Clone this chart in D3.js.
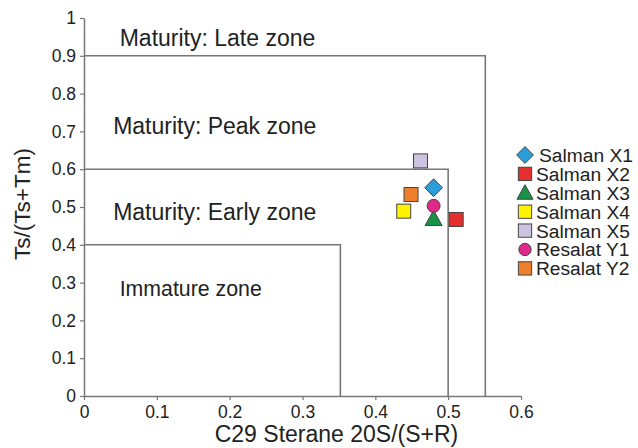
<!DOCTYPE html>
<html>
<head>
<meta charset="utf-8">
<script src="https://cdn.jsdelivr.net/npm/d3@7"></script>
<style>
  body { margin: 0; background: #fff; }
  text { font-family: Arial, "Liberation Sans", sans-serif; fill: #222; }
</style>
</head>
<body>
<div id="chart"></div>
<script>
// sample names, x = C29 sterane 20S/(S+R), y = Ts/(Ts+Tm)
const samples = ['Salman X1', 'Salman X2', 'Salman X3', 'Salman X4', 'Salman X5', 'Resalat Y1', 'Resalat Y2'];
const sterane = [0.48, 0.511, 0.48, 0.439, 0.462, 0.48, 0.449];
const tsRatio = [0.551, 0.467, 0.469, 0.489, 0.622, 0.503, 0.533];
const shapes = ['diamond', 'square', 'triangle', 'square', 'square', 'circle', 'square'];
const colors = ['#2a9ed8', '#e4302e', '#189347', '#fff200', '#cbc3e0', '#e0288a', '#ef7f2c'];

// zone boundaries (corner of each step line)
const zoneX = [0.551, 0.5, 0.352];
const zoneY = [0.9, 0.6, 0.4];
const zoneLabels = ['Maturity: Late zone', 'Maturity: Peak zone', 'Maturity: Early zone', 'Immature zone'];
const zoneLabelX = [0.049, 0.04, 0.04, 0.049];
const zoneLabelY = [0.948, 0.715, 0.487, 0.285];

const xTicks = [0, 0.1, 0.2, 0.3, 0.4, 0.5, 0.6];
const yTicks = [0, 0.1, 0.2, 0.3, 0.4, 0.5, 0.6, 0.7, 0.8, 0.9, 1];

const W = 638, H = 448;
const margin = { top: 18, right: 117, bottom: 52, left: 84 };
const width = W - margin.left - margin.right;
const height = H - margin.top - margin.bottom;

const svg = d3.select('#chart').append('svg')
  .attr('width', W).attr('height', H);

const g = svg.append('g')
  .attr('transform', 'translate(' + margin.left + ',' + margin.top + ')');

const x = d3.scaleLinear().domain([0, 0.6]).range([0, width]);
const y = d3.scaleLinear().domain([0, 1]).range([height, 0]);

// axes
const xAxis = d3.axisBottom(x).tickValues(xTicks).tickFormat(d => d3.format('')(d)).tickSize(4).tickSizeOuter(0);
const yAxis = d3.axisLeft(y).tickValues(yTicks).tickFormat(d => d3.format('')(d)).tickSize(4).tickSizeOuter(0);

const xg = g.append('g').attr('transform', 'translate(0,' + height + ')').call(xAxis);
const yg = g.append('g').call(yAxis);

[xg, yg].forEach(a => {
  a.select('.domain').attr('stroke', '#777').attr('stroke-width', 1.5);
  a.selectAll('.tick line').attr('stroke', '#777').attr('stroke-width', 1.2);
  a.selectAll('.tick text').attr('font-size', 17.5).attr('fill', '#333')
    .attr('font-family', 'Arial, "Liberation Sans", sans-serif');
});
xg.selectAll('.tick text').attr('dy', '0.85em');
yg.selectAll('.tick text').attr('x', -8);

// zone step lines
zoneX.forEach((zx, i) => {
  g.append('path')
    .attr('d', d3.line()([[x(0), y(zoneY[i])], [x(zx), y(zoneY[i])], [x(zx), y(0)]]))
    .attr('fill', 'none')
    .attr('stroke', '#777')
    .attr('stroke-width', 1.6);
});

// zone labels
zoneLabels.forEach((t, i) => {
  g.append('text')
    .attr('x', x(zoneLabelX[i]))
    .attr('y', y(zoneLabelY[i]))
    .attr('dy', '0.35em')
    .attr('font-size', i === 3 ? 21.3 : 23)
    .text(t);
});

// axis titles
g.append('text')
  .attr('x', x(0.3) + 34).attr('y', height + 46)
  .attr('text-anchor', 'middle')
  .attr('font-size', 23)
  .attr('fill', '#333')
  .text('C29 Sterane 20S/(S+R)');

g.append('text')
  .attr('transform', 'translate(' + (-54) + ',' + (y(0.5) - 3) + ') rotate(-90)')
  .attr('text-anchor', 'middle')
  .attr('font-size', 22.5)
  .attr('fill', '#333')
  .text('Ts/(Ts+Tm)');

// marker drawing
function drawMarker(sel, shape, color, big) {
  const s = big ? 1 : 0.95;
  let m;
  if (shape === 'square') {
    m = sel.append('rect').attr('x', -7 * s).attr('y', -7 * s)
      .attr('width', 14 * s).attr('height', 14 * s);
  } else if (shape === 'diamond') {
    m = sel.append('path').attr('d', d3.symbol(d3.symbolDiamond2, 200 * s * s)());
  } else if (shape === 'triangle') {
    const r = 8.5 * s;
    m = sel.append('path').attr('d', 'M0,' + (-r) + 'L' + r + ',' + (r * 0.8) + 'L' + (-r) + ',' + (r * 0.8) + 'Z');
  } else {
    m = sel.append('circle').attr('r', 6.5 * s);
  }
  m.attr('fill', color).attr('stroke', '#444').attr('stroke-width', 1);
}

// points
samples.forEach((name, i) => {
  const p = g.append('g')
    .attr('transform', 'translate(' + x(sterane[i]) + ',' + y(tsRatio[i]) + ')');
  drawMarker(p, shapes[i], colors[i], true);
});

// legend
const legend = svg.append('g').attr('transform', 'translate(525,155)');
samples.forEach((name, i) => {
  const row = legend.append('g').attr('transform', 'translate(0,' + (i * 18.9) + ')');
  drawMarker(row, shapes[i], colors[i], false);
  row.append('text')
    .attr('x', i === 0 ? 14 : 11)
    .attr('dy', '0.36em')
    .attr('font-size', 19.2)
    .attr('fill', '#333')
    .text(name);
});
</script>
</body>
</html>
